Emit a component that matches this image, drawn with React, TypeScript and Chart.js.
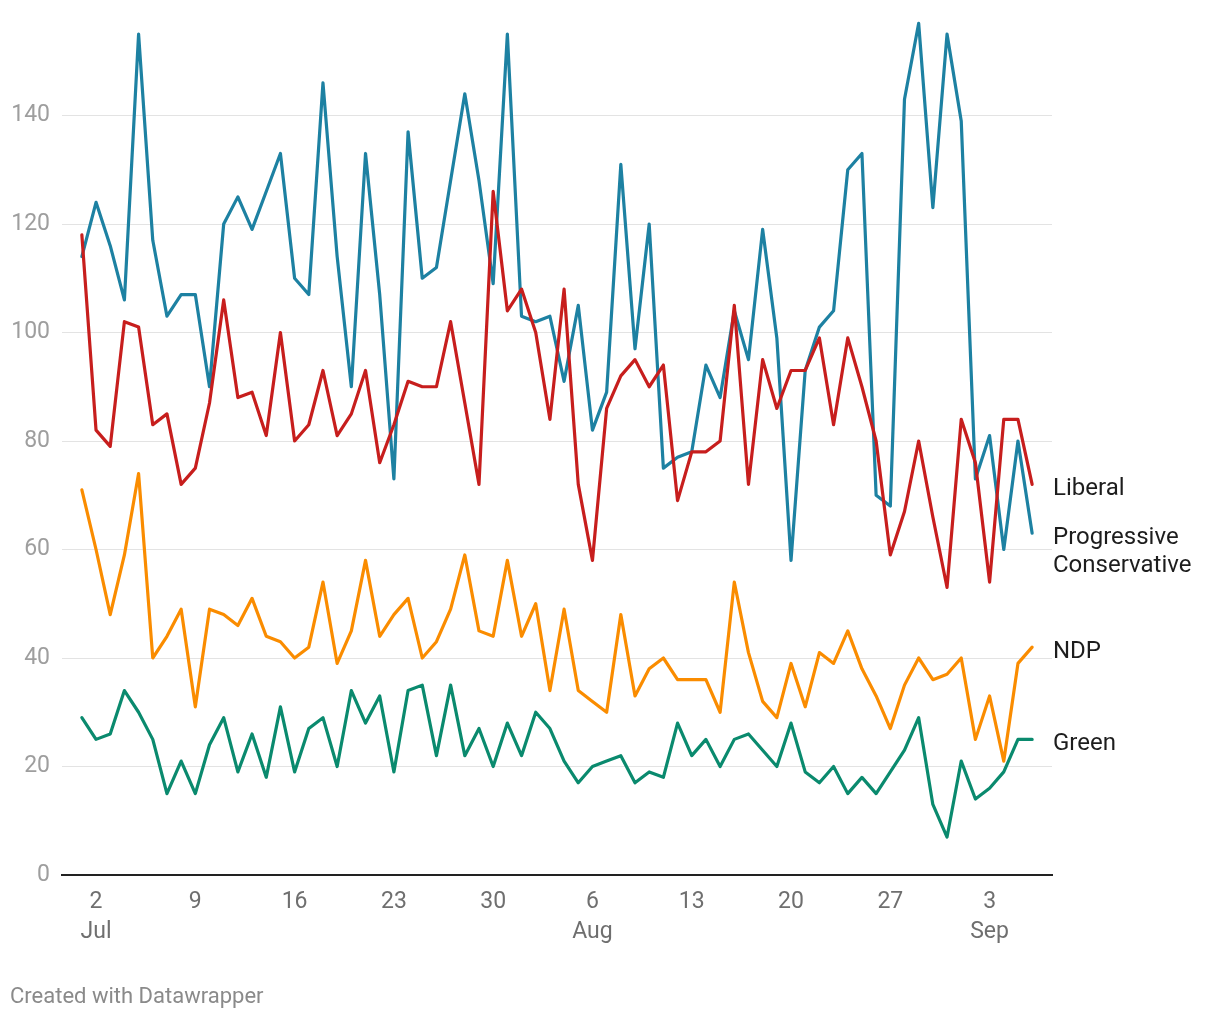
import { useEffect, useRef } from "react";
import { Chart, registerables } from "chart.js";

Chart.register(...registerables);

// Daily values, Jul 1 – Sep 6 (index 0 = Jul 1)
const liberal = [
  118, 82, 79, 102, 101, 83, 85, 72, 75, 87, 106, 88, 89, 81, 100, 80, 83, 93, 81, 85, 93, 76, 83, 91, 90, 90, 102, 87, 72, 126, 104,
  108, 100, 84, 108, 72, 58, 86, 92, 95, 90, 94, 69, 78, 78, 80, 105, 72, 95, 86, 93, 93, 99, 83, 99, 90, 80, 59, 67, 80, 66, 53,
  84, 76, 54, 84, 84, 72,
];
const progressiveConservative = [
  114, 124, 116, 106, 155, 117, 103, 107, 107, 90, 120, 125, 119, 126, 133, 110, 107, 146, 114, 90, 133, 107, 73, 137, 110, 112, 128, 144, 128, 109, 155,
  103, 102, 103, 91, 105, 82, 89, 131, 97, 120, 75, 77, 78, 94, 88, 104, 95, 119, 99, 58, 93, 101, 104, 130, 133, 70, 68, 143, 157, 123, 155,
  139, 73, 81, 60, 80, 63,
];
const ndp = [
  71, 60, 48, 59, 74, 40, 44, 49, 31, 49, 48, 46, 51, 44, 43, 40, 42, 54, 39, 45, 58, 44, 48, 51, 40, 43, 49, 59, 45, 44, 58,
  44, 50, 34, 49, 34, 32, 30, 48, 33, 38, 40, 36, 36, 36, 30, 54, 41, 32, 29, 39, 31, 41, 39, 45, 38, 33, 27, 35, 40, 36, 37,
  40, 25, 33, 21, 39, 42,
];
const green = [
  29, 25, 26, 34, 30, 25, 15, 21, 15, 24, 29, 19, 26, 18, 31, 19, 27, 29, 20, 34, 28, 33, 19, 34, 35, 22, 35, 22, 27, 20, 28,
  22, 30, 27, 21, 17, 20, 21, 22, 17, 19, 18, 28, 22, 25, 20, 25, 26, 23, 20, 28, 19, 17, 20, 15, 18, 15, 19, 23, 29, 13, 7,
  21, 14, 16, 19, 25, 25,
];

const seriesNames = ["Liberal", "Progressive\nConservative", "NDP", "Green"];
const seriesColors = ["#c71e1d", "#1d81a2", "#fa8c00", "#0a8a6e"];

const xTickDays = [1, 8, 15, 22, 29, 36, 43, 50, 57, 64];
const xTickLabels: (string | string[])[] = [["2", "Jul"], "9", "16", "23", "30", ["6", "Aug"], "13", "20", "27", ["3", "Sep"]];
const yTickValues = [0, 20, 40, 60, 80, 100, 120, 140];

const footerText = "Created with Datawrapper";
const FONT = "Roboto, 'Noto Sans', sans-serif";

const toPoints = (arr: number[]) => arr.map((v, i) => ({ x: i, y: v }));

const labelPlugin = {
  id: "endLabels",
  afterDraw(chart: any) {
    const ctx = chart.ctx;
    const yScale = chart.scales.y;
    const area = chart.chartArea;
    ctx.save();
    ctx.font = `24px ${FONT}`;
    ctx.fillStyle = "#1d1d1d";
    ctx.textBaseline = "middle";
    ctx.textAlign = "left";
    chart.data.datasets.forEach((ds: any, i: number) => {
      const last = ds.data[ds.data.length - 1];
      const y = yScale.getPixelForValue(last.y) + 5;
      const lines = seriesNames[i].split("\n");
      lines.forEach((line, j) => {
        ctx.fillText(line, area.right + 1, y + j * 28);
      });
    });
    ctx.font = `22px ${FONT}`;
    ctx.fillStyle = "#8a8a8a";
    ctx.fillText(footerText, 10, 997);
    ctx.restore();
  },
};

export default function App() {
  const canvasRef = useRef<HTMLCanvasElement | null>(null);

  useEffect(() => {
    if (!canvasRef.current) return;
    const datasets = [liberal, progressiveConservative, ndp, green].map((arr, i) => ({
      label: seriesNames[i],
      data: toPoints(arr),
      borderColor: seriesColors[i],
      backgroundColor: seriesColors[i],
      borderWidth: 3.2,
      pointRadius: 0,
      tension: 0,
      borderJoinStyle: "round" as const,
      borderCapStyle: "round" as const,
    }));
    const chart = new Chart(canvasRef.current, {
      type: "line",
      data: { datasets },
      plugins: [labelPlugin],
      options: {
        animation: false,
        responsive: false,
        devicePixelRatio: 1,
        layout: { padding: { left: 8, right: 168, top: 7, bottom: 45 } },
        plugins: { legend: { display: false }, tooltip: { enabled: false } },
        scales: {
          x: {
            type: "linear",
            min: -1.4,
            max: 68.4,
            afterBuildTicks: (scale: any) => {
              scale.ticks = xTickDays.map((v) => ({ value: v }));
            },
            afterFit: (scale: any) => {
              scale.height = 100;
              scale.paddingLeft = 0;
              scale.paddingRight = 0;
            },
            grid: { display: false, drawTicks: false },
            border: { display: true, color: "#222222", width: 2 },
            ticks: {
              padding: 12,
              autoSkip: false,
              maxRotation: 0,
              color: "#6f6f6f",
              font: { family: FONT, size: 23, lineHeight: 1.3 },
              callback: (value: any) => {
                const idx = xTickDays.indexOf(Number(value));
                return idx >= 0 ? xTickLabels[idx] : "";
              },
            },
          },
          y: {
            min: 0,
            max: 160,
            afterBuildTicks: (scale: any) => {
              scale.ticks = yTickValues.map((v) => ({ value: v }));
            },
            afterFit: (scale: any) => {
              scale.width = 54;
              scale.paddingTop = 0;
              scale.paddingBottom = 0;
            },
            grid: {
              drawTicks: false,
              color: (c: any) => (c.tick && c.tick.value === 0 ? "rgba(0,0,0,0)" : "#e3e3e3"),
              lineWidth: 1,
            },
            border: { display: false },
            ticks: {
              padding: 12,
              color: "#9e9e9e",
              font: { family: FONT, size: 23 },
              callback: (value: any) => String(value),
            },
          },
        },
      },
    });
    return () => chart.destroy();
  }, []);

  return (
    <div style={{ position: "fixed", left: 0, top: 0, width: 1220, height: 1020, background: "#ffffff" }}>
      <canvas ref={canvasRef} width={1220} height={1020} style={{ display: "block", width: 1220, height: 1020 }} />
    </div>
  );
}
